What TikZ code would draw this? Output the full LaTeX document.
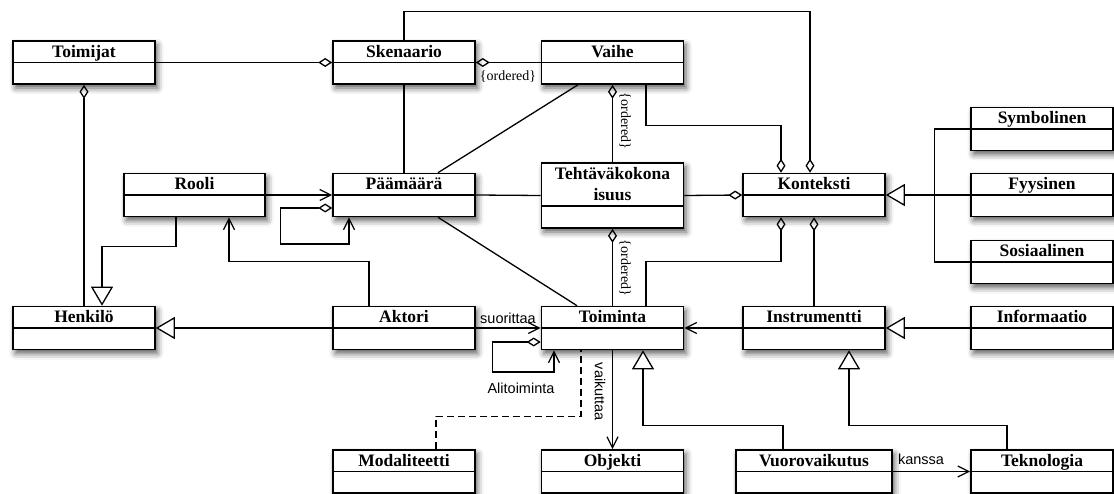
\documentclass[tikz,border=0pt]{standalone}
\usepackage{fontspec}
\newfontfamily\lsans{Liberation Sans}
\newfontfamily\lserif{Liberation Serif}
\usetikzlibrary{arrows.meta,shadows.blur}
\tikzset{
  cls/.style={draw, line width=1.6pt, fill=white, minimum width=142pt, minimum height=43pt, inner sep=0pt,
    blur shadow={shadow xshift=2.5pt, shadow yshift=-4pt, shadow blur radius=6pt, shadow opacity=65}},
  ttl/.style={font=\lserif\bfseries\fontsize{17.5}{20}\selectfont, inner sep=0pt, anchor=base},
  divider/.style={line width=1.6pt},
  conn/.style={line width=1.3pt},
  agg/.style={conn, -{Diamond[open,length=14pt,width=9pt]}},
  aggnav/.style={conn, {Diamond[open,length=14pt,width=9pt]}-{Straight Barb[length=11pt,width=11pt]}},
  nav/.style={conn, -{Straight Barb[length=11pt,width=11pt]}},
  gen/.style={conn, -{Triangle[open,length=19pt,width=22pt,fill=white]}},
  dashline/.style={conn, dash pattern=on 7pt off 4pt},
  ordlbl/.style={font=\lserif\fontsize{14}{16}\selectfont, inner sep=0pt},
  sanslbl/.style={font=\lsans\fontsize{14.5}{16}\selectfont, inner sep=0pt},
}
\newcommand\umlcls[5][142]{%
  \node[cls, minimum width=#1pt] (#2) at (#3,#4) {};
  \node[ttl] (#2-t) at ([yshift=-17pt]#2.north) {#5};
  \draw[divider] (#2.west) -- (#2.east);
}
\begin{document}
\begin{tikzpicture}[x=1pt,y=-1pt]
\useasboundingbox (0,0) rectangle (1114,494);
% classes
\umlcls{toimijat}{84}{62.5}{Toimijat}
\umlcls{skenaario}{404}{62.5}{Skenaario}
\umlcls{vaihe}{612.5}{62.5}{Vaihe}
\umlcls{symbolinen}{1042}{129}{Symbolinen}
\umlcls[141]{rooli}{194.5}{195}{Rooli}
\umlcls{paamaara}{404}{195}{Päämäärä}
\umlcls{konteksti}{814}{195}{Konteksti}
\umlcls{fyysinen}{1042}{195}{Fyysinen}
\umlcls{sosiaalinen}{1042}{262}{Sosiaalinen}
\umlcls{henkilo}{84}{328}{Henkilö}
\umlcls{aktori}{404}{328}{Aktori}
\umlcls{toiminta}{612.5}{328}{Toiminta}
\umlcls{instrumentti}{814}{328}{Instrumentti}
\umlcls{informaatio}{1042}{328}{Informaatio}
\umlcls{modaliteetti}{404}{471.5}{Modaliteetti}
\umlcls{objekti}{612.5}{471.5}{Objekti}
\umlcls[156]{vuoro}{814}{471.5}{Vuorovaikutus}
\umlcls{teknologia}{1042}{471.5}{Teknologia}
% two-line class
\node[cls, minimum height=65pt] (teht) at (612.5,195.5) {};
\node[ttl] (teht-t1) at ([yshift=-17.5pt]teht.north) {Tehtäväkokona};
\node[ttl] (teht-t2) at ([yshift=-38.5pt]teht.north) {isuus};
\draw[divider] ([yshift=-44pt]teht.north west) -- ([yshift=-44pt]teht.north east);
% helper coordinates
\coordinate (kTopL) at ([xshift=-33pt]konteksti.north);
\coordinate (kTopR) at ([xshift=-4pt]konteksti.north);
\coordinate (kBotL) at ([xshift=-33pt]konteksti.south);
% connectors
\draw[agg] (toimijat.east) -- (skenaario.west);
\draw[agg] (henkilo.north) -- (toimijat.south);
\draw[agg] (skenaario.north) -- ++(0,-29) -| (kTopR);
\draw[agg] (vaihe.west) -- (skenaario.east);
\node[ordlbl] (ord1) at (508,77) {\{ordered\}};
\draw[conn] (skenaario.south) -- (paamaara.north);
\draw[conn] ([xshift=-34.5pt]vaihe.south) -- ([xshift=34pt]paamaara.north);
\draw[agg] (teht.north) -- (vaihe.south);
\node[ordlbl, rotate=-90] (ord2) at (625,121) {\{ordered\}};
\draw[agg] ([xshift=33.5pt]vaihe.south) -- ++(0,41) -| (kTopL);
\draw[nav] (rooli.east) -- (paamaara.west);
\draw[aggnav] ([yshift=-13pt]paamaara.west) -- ++(-52,0) -- ++(0,36) -| ([xshift=-55pt]paamaara.south);
\draw[conn] (paamaara.east) -- (teht.west);
\draw[conn] ([xshift=34pt]paamaara.south) -- ([xshift=-35.5pt]toiminta.north);
\draw[agg] (teht.east) -- (konteksti.west);
\draw[agg] (toiminta.north) -- (teht.south);
\node[ordlbl, rotate=-90] (ord3) at (625,268) {\{ordered\}};
\draw[agg] ([xshift=33.5pt]toiminta.north) -- ++(0,-44) -| (kBotL);
\draw[agg] (instrumentti.north) -- (konteksti.south);
\draw[gen] (fyysinen.west) -- (konteksti.east);
\draw[conn] (symbolinen.west) -- ++(-36,0) |- (sosiaalinen.west);
\draw[gen] ([xshift=-18.5pt]rooli.south) -- ++(0,29) -| ([xshift=18pt]henkilo.north);
\draw[gen] (aktori.west) -- (henkilo.east);
\draw[nav] ([xshift=-35pt]aktori.north) -- ++(0,-44) -| ([xshift=34.5pt]rooli.south);
\draw[nav] (aktori.east) -- (toiminta.west);
\node[sanslbl] (lsuor) at (508,318) {suorittaa};
\draw[aggnav] ([yshift=-14pt]toiminta.west) -- ++(-48,0) -- ++(0,30) -| ([xshift=-58.5pt]toiminta.south);
\node[sanslbl] (lalit) at (521,388) {Alitoiminta};
\draw[dashline] ([xshift=32pt]modaliteetti.north) -- ++(0,-33) -| ([xshift=-31.5pt]toiminta.south);
\draw[nav] (toiminta.south) -- (objekti.north);
\node[sanslbl, rotate=-90] (lvaik) at (600,392) {vaikuttaa};
\draw[gen] ([xshift=-31pt]vuoro.north) -- ++(0,-24) -| ([xshift=30.5pt]toiminta.south);
\draw[gen] ([xshift=-35pt]teknologia.north) -- ++(0,-24) -| ([xshift=35pt]instrumentti.south);
\draw[nav] (vuoro.east) -- (teknologia.west);
\node[sanslbl] (lkans) at (921,459) {kanssa};
\draw[nav] (instrumentti.west) -- (toiminta.east);
\draw[gen] (informaatio.west) -- (instrumentti.east);
\end{tikzpicture}
\end{document}
